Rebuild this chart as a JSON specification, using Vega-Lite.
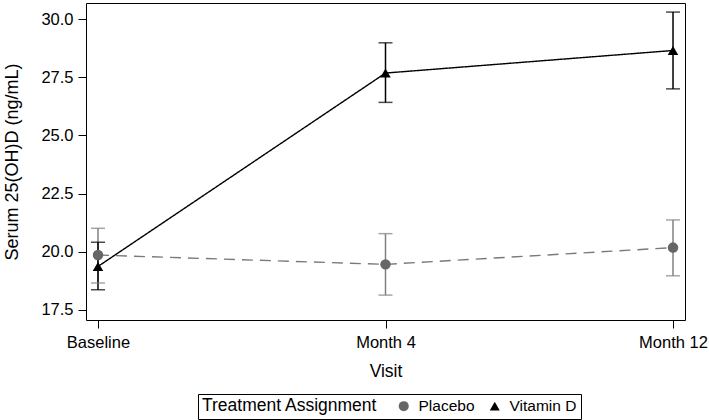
{
  "$schema": "https://vega.github.io/schema/vega-lite/v6.json",
  "autosize": {"type": "none"},
  "padding": {"left": 86, "top": 3, "right": 24, "bottom": 100},
  "width": 599,
  "height": 317,
  "config": {
    "font": "Liberation Sans",
    "view": {"stroke": "black", "strokeWidth": 1},
    "axis": {
      "grid": false,
      "domain": false,
      "tickColor": "black",
      "tickSize": 8,
      "tickWidth": 1,
      "labelColor": "black",
      "labelFontSize": 16.5,
      "titleColor": "black",
      "titleFontSize": 17.5,
      "titleFontWeight": "normal"
    },
    "legend": {
      "orient": "none",
      "legendX": 112,
      "legendY": 391,
      "direction": "horizontal",
      "titleOrient": "left",
      "titleFontSize": 17.5,
      "titleFontWeight": "normal",
      "titleColor": "black",
      "titlePadding": 18,
      "labelFontSize": 15.5,
      "labelColor": "black",
      "labelOffset": 7,
      "columnPadding": 12,
      "symbolSize": 100,
      "symbolStrokeWidth": 0,
      "strokeColor": "black",
      "padding": 4
    }
  },
  "data": {
    "values": [
      {"visit": "Baseline", "group": "Placebo", "mean": 19.86, "lower": 18.66, "upper": 21.01},
      {"visit": "Month 4", "group": "Placebo", "mean": 19.46, "lower": 18.14, "upper": 20.78},
      {"visit": "Month 12", "group": "Placebo", "mean": 20.18, "lower": 18.97, "upper": 21.37},
      {"visit": "Baseline", "group": "Vitamin D", "mean": 19.37, "lower": 18.37, "upper": 20.41},
      {"visit": "Month 4", "group": "Vitamin D", "mean": 27.68, "lower": 26.42, "upper": 28.98},
      {"visit": "Month 12", "group": "Vitamin D", "mean": 28.65, "lower": 27.0, "upper": 30.3}
    ]
  },
  "encoding": {
    "x": {
      "field": "visit",
      "type": "ordinal",
      "sort": ["Baseline", "Month 4", "Month 12"],
      "scale": {"type": "point", "padding": 0.0417},
      "axis": {"title": "Visit", "labelAngle": 0, "labelPadding": 6, "titlePadding": 12}
    }
  },
  "layer": [
    {
      "mark": {"type": "rule", "strokeWidth": 1.5},
      "encoding": {
        "y": {
          "field": "lower",
          "type": "quantitative",
          "scale": {"domain": [17.07, 30.69], "nice": false, "zero": false},
          "axis": {
            "title": "Serum 25(OH)D (ng/mL)",
            "titleFontSize": 18,
            "values": [17.5, 20, 22.5, 25, 27.5, 30],
            "format": ".1f",
            "labelPadding": 5,
            "titlePadding": 19
          }
        },
        "y2": {"field": "upper"},
        "color": {
          "field": "group",
          "type": "nominal",
          "scale": {"domain": ["Placebo", "Vitamin D"], "range": ["#808080", "#000000"]},
          "legend": null
        }
      }
    },
    {
      "mark": {"type": "tick", "size": 14, "thickness": 1.5},
      "encoding": {
        "y": {"field": "lower", "type": "quantitative"},
        "color": {
          "field": "group",
          "type": "nominal",
          "scale": {"domain": ["Placebo", "Vitamin D"], "range": ["#808080", "#000000"]},
          "legend": null
        }
      }
    },
    {
      "mark": {"type": "tick", "size": 14, "thickness": 1.5},
      "encoding": {
        "y": {"field": "upper", "type": "quantitative"},
        "color": {
          "field": "group",
          "type": "nominal",
          "scale": {"domain": ["Placebo", "Vitamin D"], "range": ["#808080", "#000000"]},
          "legend": null
        }
      }
    },
    {
      "mark": {"type": "line", "strokeWidth": 1.4},
      "encoding": {
        "y": {"field": "mean", "type": "quantitative"},
        "color": {
          "field": "group",
          "type": "nominal",
          "scale": {"domain": ["Placebo", "Vitamin D"], "range": ["#7a7a7a", "#000000"]},
          "legend": null
        },
        "strokeDash": {
          "field": "group",
          "type": "nominal",
          "scale": {"domain": ["Placebo", "Vitamin D"], "range": [[11, 7], [1, 0]]},
          "legend": null
        }
      }
    },
    {
      "mark": {"type": "point", "filled": true, "opacity": 1, "size": 110},
      "encoding": {
        "y": {"field": "mean", "type": "quantitative"},
        "color": {
          "field": "group",
          "type": "nominal",
          "title": "Treatment Assignment",
          "scale": {"domain": ["Placebo", "Vitamin D"], "range": ["#666666", "#000000"]}
        },
        "shape": {
          "field": "group",
          "type": "nominal",
          "title": "Treatment Assignment",
          "scale": {"domain": ["Placebo", "Vitamin D"], "range": ["circle", "triangle-up"]}
        }
      }
    }
  ],
  "resolve": {
    "scale": {"color": "independent", "shape": "independent"},
    "legend": {"color": "independent", "shape": "independent"}
  }
}
